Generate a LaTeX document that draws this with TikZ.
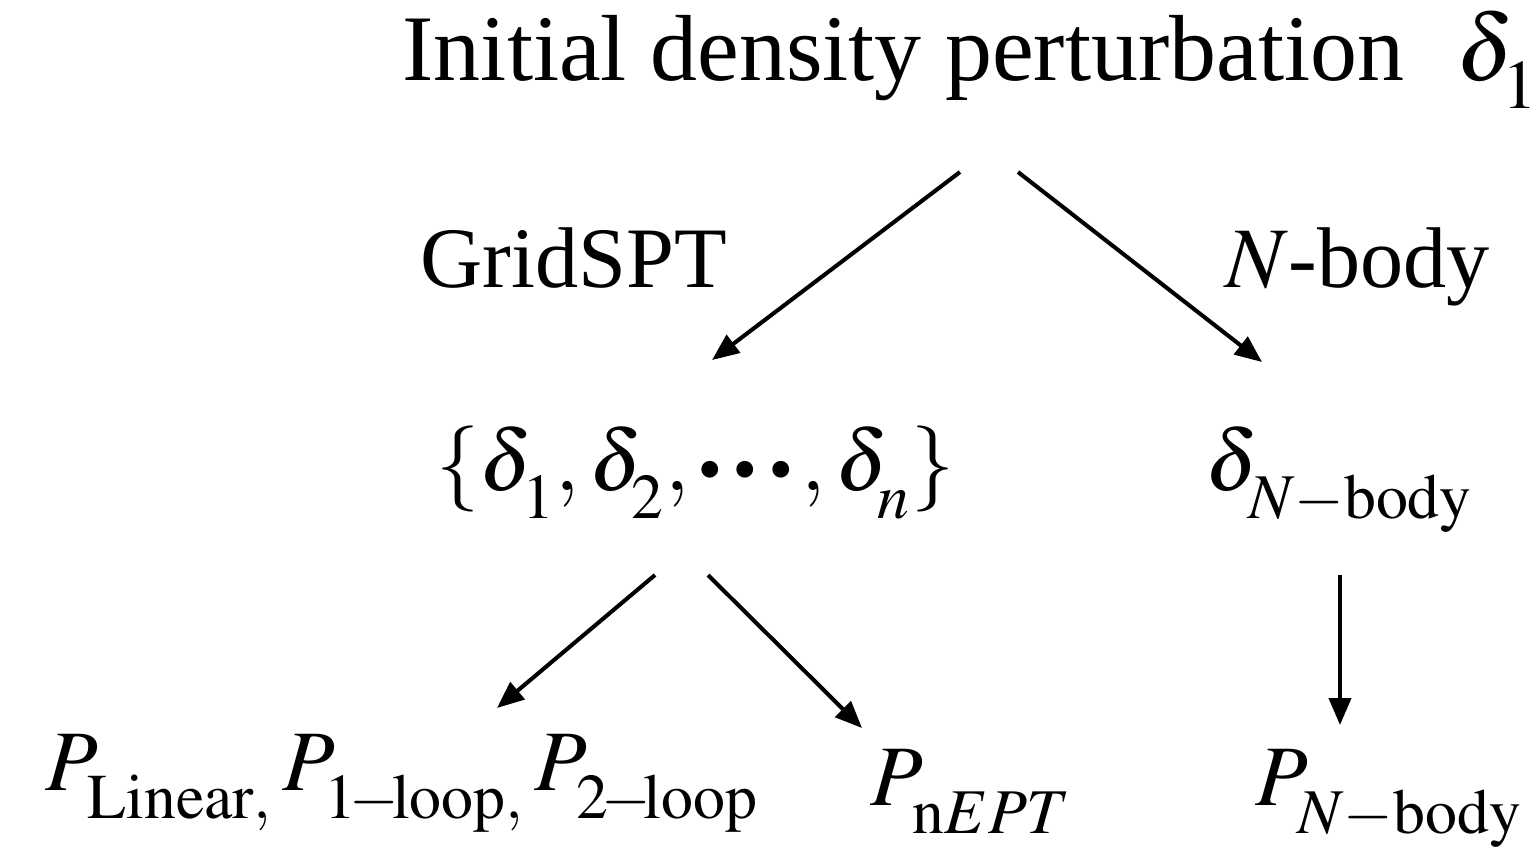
\documentclass[tikz,border=0pt]{standalone}
\usepackage{graphicx}
\usepackage{mathptmx}
\usepackage{fontspec}
\setmainfont{Liberation Serif}
\usepackage{tikz}
\usetikzlibrary{arrows.meta, positioning}
\newcommand{\dotdot}{\raisebox{2.7pt}{\scalebox{0.5}{$\bullet$}}}
\newcommand{\bigcdots}{\mathinner{\dotdot\mkern3mu\dotdot\mkern3mu\dotdot}}
\newcommand{\loopsub}[1]{#1\mkern-2mu-\mkern-2mu\mathrm{loop}}
\everymath{\fontdimen16\textfont2=8pt\relax}

\begin{document}
\begin{tikzpicture}[
    x=0.01cm, y=-0.01cm,
    txt/.style={inner sep=0pt, anchor=base west, font=\fontsize{24.5}{29}\selectfont},
    arrow/.style={-{Triangle[length=0.27cm, width=0.22cm]}, line width=1.15pt},
]
    \useasboundingbox (0,0) rectangle (1538,850);

    % Top: starting field
    \node[txt, font=\fontsize{26.7}{32}\selectfont] (init) at (402,80) {Initial density perturbation\hspace{0.52cm}$\delta_1$};

    % Methods
    \node[txt] (grid) at (420,287) {GridSPT};
    \node[txt] (nbody) at (1225,287) {$N$-body};

    % Fields
    \node[txt] (set) at (436,490) {$\{\delta_1, \delta_2, \bigcdots, \delta_n\}$};
    \node[txt] (dN) at (1205,490) {$\delta_{N-\mathrm{body}}$};

    % Power spectra
    \node[txt] (pl) at (45,790) {$P_{\mathrm{Linear},}\,P_{\loopsub{1},}\,P_{\loopsub{2}}$};
    \node[txt] (pe) at (870,805) {$P_{\mathrm{n}EPT}$};
    \node[txt] (pn) at (1255,805) {$P_{N-\mathrm{body}}$};

    % Arrows
    \draw[arrow] ([shift={(558,92)}]init.base west) -- ([shift={(276,-130)}]set.base west);
    \draw[arrow] ([shift={(616,92)}]init.base west) -- ([shift={(57,-128)}]dN.base west);
    \draw[arrow] ([shift={(219,85)}]set.base west) -- ([shift={(452,-82)}]pl.base west);
    \draw[arrow] ([shift={(272,85)}]set.base west) -- ([shift={(-8,-77)}]pe.base west);
    \draw[arrow] ([shift={(135,85)}]dN.base west) -- ([shift={(85,-80)}]pn.base west);
\end{tikzpicture}
\end{document}
